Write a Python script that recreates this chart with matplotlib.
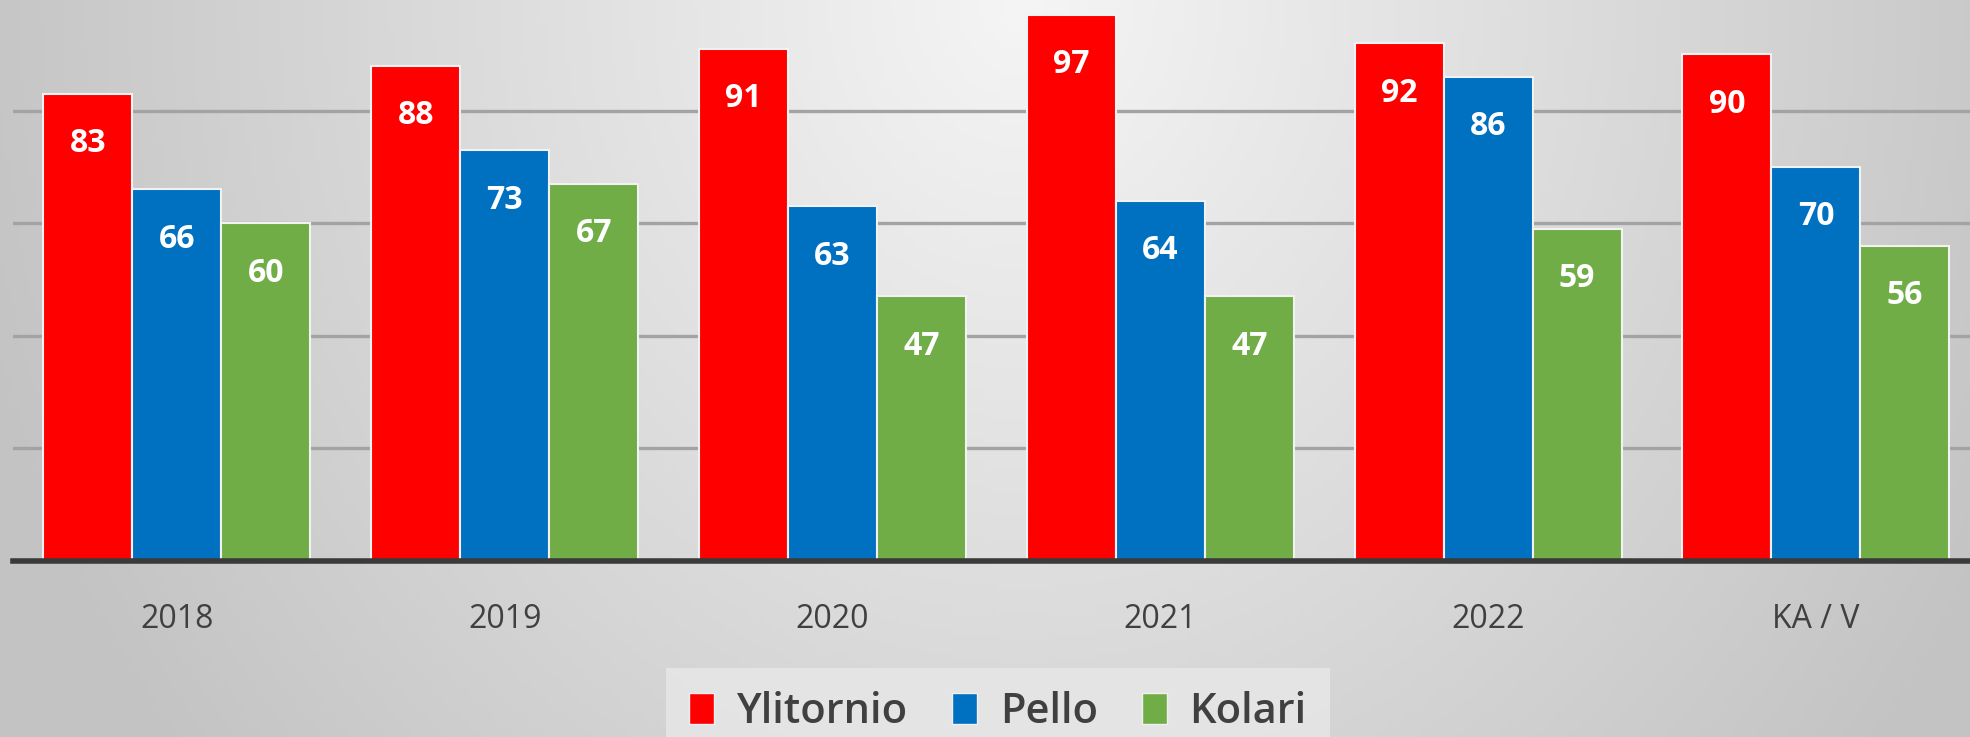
import numpy as np
import matplotlib
matplotlib.use("Agg")
import matplotlib.pyplot as plt
from matplotlib.patches import Patch

categories = ["2018", "2019", "2020", "2021", "2022", "KA / V"]
series_names = ["Ylitornio", "Pello", "Kolari"]
ylitornio = [83, 88, 91, 97, 92, 90]
pello = [66, 73, 63, 64, 86, 70]
kolari = [60, 67, 47, 47, 59, 56]
colors = ["#FF0000", "#0070C0", "#70AD47"]

W, H = 1970, 737
fig = plt.figure(figsize=(W / 100, H / 100), dpi=100)

# background gradient
bg = fig.add_axes([0, 0, 1, 1], zorder=-10)
xx, yy = np.meshgrid(np.linspace(0, 1, 400), np.linspace(0, 1, 150))
r = np.sqrt(((xx - 0.52) / 0.5) ** 2 + (yy / 1.5) ** 2)
val = np.clip(245 - 45 * r, 195, 250) / 255.0
bg.imshow(np.dstack([val, val, val]), aspect="auto", extent=[0, 1, 1, 0])
bg.set_xlim(0, 1); bg.set_ylim(1, 0)
bg.axis("off")

px_per_unit = 5.63
base_y = 561
left_px = 13
group_px = 327.8
ax = fig.add_axes([left_px / W, (H - base_y) / H, 6 * group_px / W, base_y / H])
ax.set_facecolor("none")
ax.set_xlim(-0.5, 5.5)
ax.set_ylim(0, base_y / px_per_unit)

x = np.arange(len(categories))
bw = 89 / group_px
for k, (vals, c) in enumerate(zip([ylitornio, pello, kolari], colors)):
    ax.bar(x + (k - 1) * bw, vals, width=bw, color=c, edgecolor="#f2f2f2",
           linewidth=1.5, zorder=3, label=series_names[k])
    for xi, v in zip(x + (k - 1) * bw, vals):
        ax.annotate(str(v), (xi, v), xytext=(0, -36), textcoords="offset points",
                    ha="center", va="center", color="white", fontsize=23,
                    fontweight="bold", family="Open Sans", zorder=4)

ax.set_yticks([20, 40, 60, 80])
ax.yaxis.grid(True, color="#a3a3a3", linewidth=2.4, zorder=0)
ax.tick_params(axis="y", left=False, labelleft=False)
ax.tick_params(axis="x", bottom=False, pad=27)
ax.set_xticks(x)
ax.set_xticklabels(categories, fontsize=23, color="#404040", family="Open Sans")
for s in ["top", "right", "left"]:
    ax.spines[s].set_visible(False)
ax.spines["bottom"].set_color("#3a3a3a")
ax.spines["bottom"].set_linewidth(4)
ax.spines["bottom"].set_zorder(5)

handles = [Patch(facecolor=c, edgecolor="#f0f0f0", linewidth=1) for c in colors]
leg = fig.legend(handles, series_names, loc="upper center",
                 bbox_to_anchor=(998 / W, 1 - 668 / H), ncol=3, frameon=True,
                 prop={"family": "Open Sans", "weight": "semibold", "size": 30},
                 handlelength=0.6, handleheight=0.75, handletextpad=0.55,
                 columnspacing=1.05, borderpad=0.55, borderaxespad=0,
                 fancybox=False)
leg.get_frame().set_facecolor("#e8e8e8")
leg.get_frame().set_edgecolor("none")
for t in leg.get_texts():
    t.set_color("#404040")

fig.savefig("out.png", dpi=100)
